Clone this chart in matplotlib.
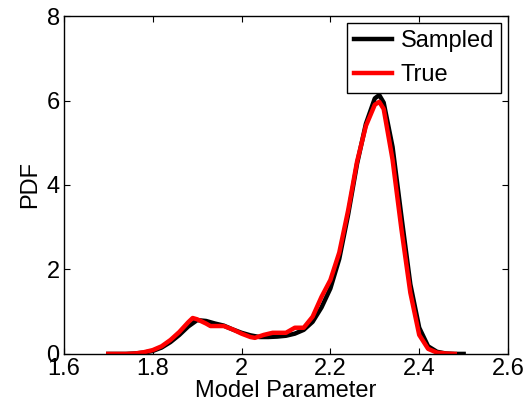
import numpy as np
import matplotlib.pyplot as plt

plt.rcParams['font.family'] = ['Liberation Sans', 'DejaVu Sans']

# sampled pdf (black)
xSampled = [1.70, 1.72, 1.74, 1.76, 1.78, 1.80, 1.82, 1.84, 1.86, 1.88,
            1.90, 1.92, 1.94, 1.96, 1.98, 2.00, 2.02, 2.04, 2.06, 2.08,
            2.10, 2.12, 2.14, 2.16, 2.18, 2.20, 2.22, 2.24, 2.26, 2.28,
            2.30, 2.31, 2.32, 2.34, 2.36, 2.38, 2.40, 2.42, 2.44, 2.46,
            2.48, 2.50]
ySampled = [0.0, 0.0, 0.0, 0.01, 0.03, 0.07, 0.15, 0.28, 0.45, 0.65,
            0.80, 0.78, 0.72, 0.67, 0.58, 0.50, 0.44, 0.40, 0.40, 0.41,
            0.43, 0.48, 0.57, 0.76, 1.10, 1.55, 2.25, 3.30, 4.50, 5.45,
            6.05, 6.13, 5.95, 4.90, 3.25, 1.65, 0.62, 0.18, 0.05, 0.01,
            0.0, 0.0]

# true pdf (red)
xTrue = [1.70, 1.72, 1.74, 1.76, 1.78, 1.80, 1.82, 1.84, 1.86, 1.88,
         1.89, 1.90, 1.92, 1.93, 1.96, 1.98, 2.00, 2.02, 2.03, 2.05,
         2.07, 2.10, 2.12, 2.14, 2.16, 2.18, 2.20, 2.22, 2.24, 2.26,
         2.28, 2.30, 2.31, 2.32, 2.34, 2.36, 2.38, 2.40, 2.42, 2.44,
         2.46, 2.48]
yTrue = [0.0, 0.0, 0.0, 0.01, 0.04, 0.09, 0.18, 0.33, 0.52, 0.75,
         0.85, 0.82, 0.72, 0.66, 0.66, 0.58, 0.48, 0.40, 0.38, 0.45,
         0.50, 0.50, 0.62, 0.62, 0.88, 1.35, 1.75, 2.40, 3.40, 4.55,
         5.40, 5.90, 5.97, 5.80, 4.60, 2.95, 1.45, 0.45, 0.12, 0.03,
         0.01, 0.0]

xTicks = [1.6, 1.8, 2.0, 2.2, 2.4, 2.6]
xTickLabels = ['1.6', '1.8', '2', '2.2', '2.4', '2.6']
yTicks = [0, 2, 4, 6, 8]

fig = plt.figure(figsize=(5.32, 4.12), dpi=100)
ax = fig.add_axes([0.120, 0.141, 0.835, 0.820])

ax.plot(xSampled, ySampled, color='black', linewidth=3.2, label='Sampled')
ax.plot(xTrue, yTrue, color='red', linewidth=3.2, label='True')

ax.set_xlim(1.6, 2.6)
ax.set_ylim(0, 8)
ax.set_xticks(xTicks)
ax.set_xticklabels(xTickLabels)
ax.set_yticks(yTicks)
ax.tick_params(direction='in', top=True, right=True, length=4,
               labelsize=17, pad=3)
for s in ax.spines.values():
    s.set_linewidth(1.0)

ax.set_xlabel('Model Parameter', fontsize=17, labelpad=0)
ax.set_ylabel('PDF', fontsize=17, labelpad=4)

leg = ax.legend(loc='upper right', fontsize=17, fancybox=False,
                framealpha=1, edgecolor='black', handlelength=1.6,
                borderpad=0.3, labelspacing=0.5, handletextpad=0.35,
                borderaxespad=0.3)
leg.get_frame().set_linewidth(1.0)

fig.savefig('out.png', dpi=100)
